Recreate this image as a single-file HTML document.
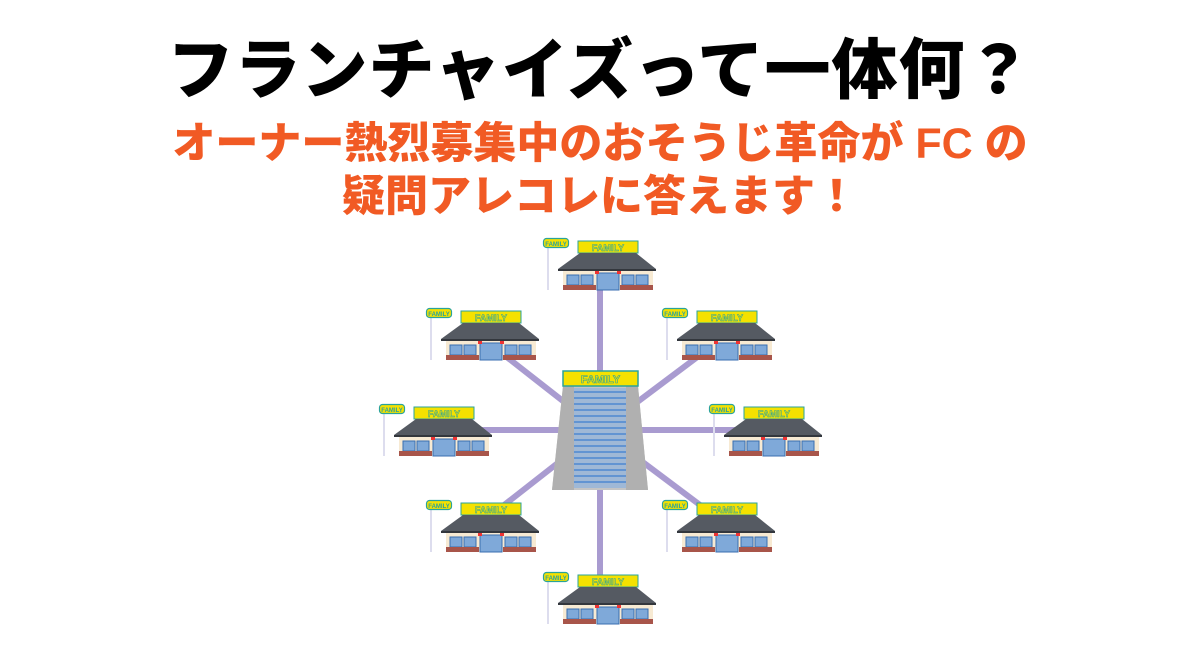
<!DOCTYPE html>
<html><head><meta charset="utf-8"><style>
body{margin:0;width:1200px;height:655px;background:#fff;overflow:hidden;font-family:"Liberation Sans","Noto Sans CJK JP",sans-serif}
.t1{position:absolute;left:0;width:1200px;top:32px;text-align:center;font-size:66px;font-weight:900;color:#000;line-height:76px;letter-spacing:1px}
.t2{position:absolute;left:0;width:1200px;top:118px;text-align:center;font-size:43px;font-weight:900;color:#f15a24;line-height:53px}
svg{position:absolute;left:0;top:0}
</style></head><body>
<div class="t1">フランチャイズって一体何？</div>
<div class="t2">オーナー熱烈募集中のおそうじ革命が FC の<br>疑問アレコレに答えます！</div>
<svg width="1200" height="655" viewBox="0 0 1200 655">
<g stroke="#a99bd0" stroke-width="6">
<line x1="600" y1="430" x2="600" y2="290"/><line x1="600" y1="430" x2="600" y2="580"/>
<line x1="600" y1="430" x2="485" y2="340"/><line x1="600" y1="430" x2="720" y2="340"/>
<line x1="600" y1="430" x2="440" y2="430"/><line x1="600" y1="430" x2="765" y2="430"/>
<line x1="600" y1="430" x2="485" y2="520"/><line x1="600" y1="430" x2="720" y2="520"/>
</g>
<g id="stores">
</g>
<polygon points="563,386 638,386 648,490 552,490" fill="#c4c4c4"/>
<polygon points="563,386 574,386 574,490 552,490" fill="#b0b0b0"/>
<polygon points="626,386 638,386 648,490 626,490" fill="#b0b0b0"/>
<rect x="574" y="388" width="52" height="100" fill="#9fb8d6"/>
<g stroke="#3f7fd0" stroke-width="1.2">
<line x1="574" y1="392" x2="626" y2="392"/><line x1="574" y1="398" x2="626" y2="398"/><line x1="574" y1="404" x2="626" y2="404"/><line x1="574" y1="410" x2="626" y2="410"/><line x1="574" y1="416" x2="626" y2="416"/><line x1="574" y1="422" x2="626" y2="422"/><line x1="574" y1="428" x2="626" y2="428"/><line x1="574" y1="434" x2="626" y2="434"/><line x1="574" y1="440" x2="626" y2="440"/><line x1="574" y1="446" x2="626" y2="446"/><line x1="574" y1="452" x2="626" y2="452"/><line x1="574" y1="458" x2="626" y2="458"/><line x1="574" y1="464" x2="626" y2="464"/><line x1="574" y1="470" x2="626" y2="470"/><line x1="574" y1="476" x2="626" y2="476"/><line x1="574" y1="482" x2="626" y2="482"/>
</g>
<rect x="563" y="371" width="75" height="15" fill="#f5e100" stroke="#2aa39a" stroke-width="1.5"/>
<text x="600.5" y="383" font-size="11" text-anchor="middle" fill="#f5e100" stroke="#2aa39a" stroke-width="0.6" font-family="Liberation Sans" font-weight="bold">FAMILY</text>
</svg>
<script>
var pos=[[543,238],[426,308],[662,308],[379,404],[709,404],[426,500],[662,500],[543,572]];
var s='';
pos.forEach(function(p){
s+='<g transform="translate('+p[0]+','+p[1]+')">'+
'<line x1="5" y1="10" x2="5" y2="52" stroke="#dde" stroke-width="2"/>'+
'<rect x="0.5" y="0.5" width="25" height="9" rx="3" fill="#f5e100" stroke="#2aa39a" stroke-width="1.2"/>'+
'<text x="13" y="8" font-size="6" text-anchor="middle" fill="#2aa39a" font-family="Liberation Sans" font-weight="bold">FAMILY</text>'+
'<rect x="35" y="3" width="60" height="12" fill="#f5e100" stroke="#2aa39a" stroke-width="1"/>'+
'<text x="65" y="13" font-size="9" text-anchor="middle" fill="#f5e100" stroke="#2aa39a" stroke-width="0.5" font-family="Liberation Sans" font-weight="bold">FAMILY</text>'+
'<rect x="20" y="32" width="90" height="20" fill="#f7ead3"/>'+
'<polygon points="37,15 93,15 113,31 15,31" fill="#555a62"/>'+
'<rect x="15" y="31" width="98" height="2" fill="#33373d"/>'+
'<rect x="24" y="37" width="12" height="10" fill="#7fa9d9" stroke="#3a6eb0"/><rect x="38" y="37" width="12" height="10" fill="#7fa9d9" stroke="#3a6eb0"/>'+
'<rect x="79" y="37" width="12" height="10" fill="#7fa9d9" stroke="#3a6eb0"/><rect x="93" y="37" width="12" height="10" fill="#7fa9d9" stroke="#3a6eb0"/>'+
'<rect x="54" y="35" width="22" height="17" fill="#7fa9d9" stroke="#3a6eb0"/>'+
'<rect x="52" y="33" width="4" height="3" fill="#e33"/><rect x="74" y="33" width="4" height="3" fill="#e33"/>'+
'<rect x="20" y="47" width="33" height="5" fill="#a8554a"/><rect x="77" y="47" width="33" height="5" fill="#a8554a"/>'+
'</g>';});
document.getElementById('stores').innerHTML=s;
</script>
</body></html>
